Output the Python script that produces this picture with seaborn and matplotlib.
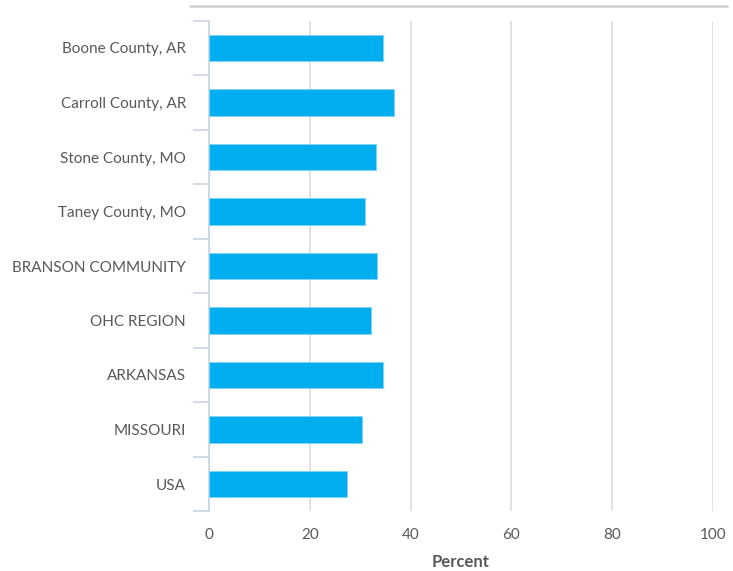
import matplotlib
matplotlib.use("Agg")
import matplotlib.pyplot as plt
from matplotlib.lines import Line2D
import seaborn as sns
import pandas as pd

categories = ["Boone County, AR", "Carroll County, AR", "Stone County, MO", "Taney County, MO",
              "BRANSON COMMUNITY", "OHC REGION", "ARKANSAS", "MISSOURI", "USA"]
values = [34.6, 36.7, 33.1, 30.9, 33.4, 32.1, 34.6, 30.3, 27.3]
x_ticks = [0, 20, 40, 60, 80, 100]
x_label = "Percent"

sns.set_theme(style="white")
plt.rcParams['font.family'] = ['Lato', 'DejaVu Sans']

df = pd.DataFrame({"cat": categories, "val": values})

fig = plt.figure(figsize=(7.33, 5.71), dpi=100)
ax = fig.add_axes([209/733, 1 - 511.25/571, (713-209)/733, (511.25-20.75)/571])

sns.barplot(data=df, x="val", y="cat", orient="h", color="#00AEEF", saturation=1,
            width=0.48, edgecolor="#7fd4f5", linewidth=0.6, ax=ax, zorder=3)

ax.set_xlim(0, 100)
ax.set_ylim(len(categories) - 0.5, -0.5)
ax.set_xticks(x_ticks)
ax.set_xticklabels([str(t) for t in x_ticks])
ax.grid(axis="x", color="#dcdcdc", linewidth=1.2, zorder=0)
ax.set_axisbelow(True)

# category boundary ticks on left
ax.set_yticks([i for i in range(len(categories))])
ax.set_yticklabels(categories)
ax.tick_params(axis="y", which="major", left=False, length=0, pad=16.5, labelsize=11, labelcolor="#595959")
ax.set_yticks([i - 0.5 for i in range(len(categories) + 1)], minor=True)
ax.tick_params(axis="y", which="minor", left=True, length=11.5, width=1.2, color="#c9d4e2")
ax.tick_params(axis="x", bottom=False, length=0, pad=12, labelsize=11, labelcolor="#595959")

for s in ["top", "right", "bottom"]:
    ax.spines[s].set_visible(False)
ax.spines["left"].set_color("#c9d4e2")
ax.spines["left"].set_linewidth(1.2)

ax.set_ylabel("")
ax.set_xlabel(x_label, fontsize=12, fontweight="bold", color="#595959", labelpad=9)

fig.add_artist(Line2D([190/733, 727/733], [1 - 6/571, 1 - 6/571], color="#d0d0d0", linewidth=1.8))

fig.savefig("out.png", dpi=100)
